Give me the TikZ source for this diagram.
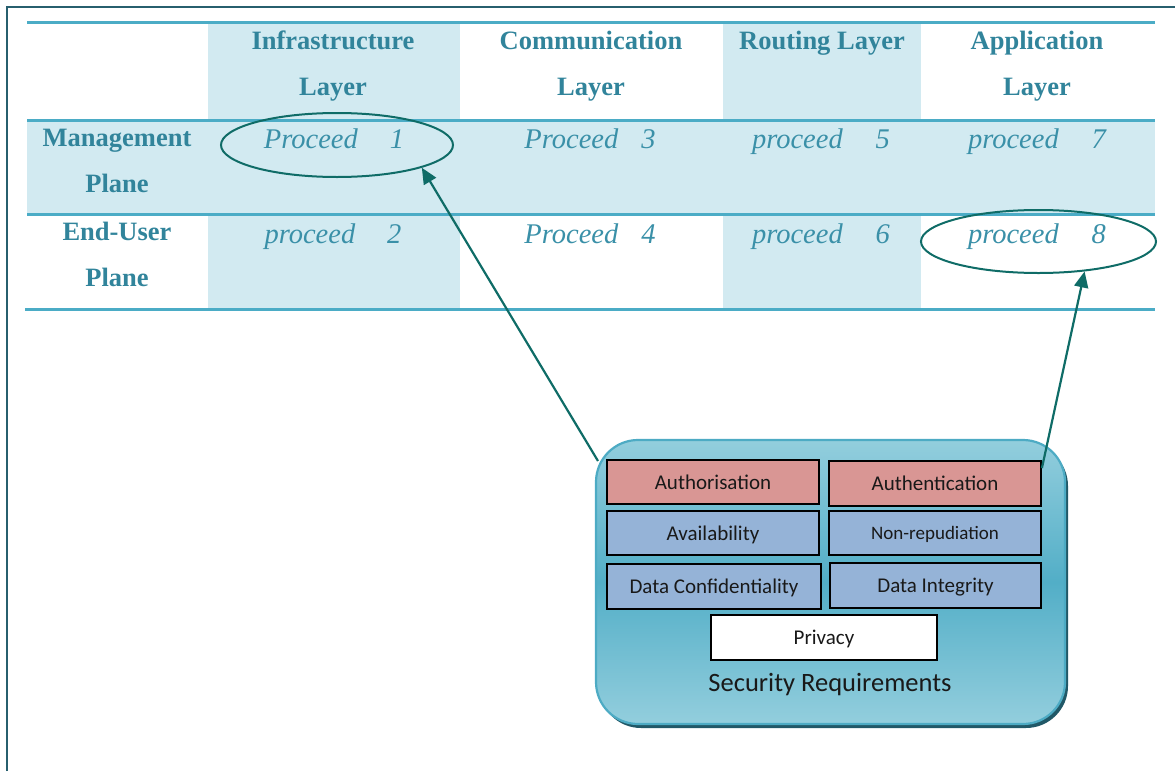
\documentclass[tikz,border=0pt]{standalone}
\usepackage{fontspec}
\setmainfont{Liberation Serif}
\newfontfamily\boxfont{Carlito}
\usetikzlibrary{shapes.geometric,arrows.meta}

\definecolor{framecol}{HTML}{275F6E}
\definecolor{rulecol}{HTML}{4BACC6}
\definecolor{shadecol}{HTML}{D2EAF1}
\definecolor{headcol}{HTML}{31849B}
\definecolor{cellcol}{HTML}{3A90A8}
\definecolor{linkcol}{HTML}{0F6C67}
\definecolor{redbox}{HTML}{D99694}
\definecolor{bluebox}{HTML}{95B3D7}
\definecolor{boxtop}{HTML}{93CEDD}
\definecolor{boxmid}{HTML}{52AEC7}
\definecolor{boxedge}{HTML}{4DABC4}
\definecolor{boxshadow}{HTML}{215867}

\begin{document}
\begin{tikzpicture}[x=1pt,y=-1pt,
  rulestyle/.style={draw=rulecol,line width=3pt},
  headtext/.style={text=headcol,align=center,inner sep=0pt,anchor=base,
    font=\fontsize{26.5}{46}\selectfont\bfseries},
  celltext/.style={text=cellcol,inner sep=0pt,anchor=base,
    font=\fontsize{28.5}{34}\selectfont\itshape},
  ring/.style={draw=linkcol,line width=2pt,ellipse,minimum width=232pt,minimum height=64pt,inner sep=0pt},
  conn/.style={draw=linkcol,line width=2.2pt,-{Triangle[length=16pt,width=14pt]}},
  reqbox/.style={draw=black,line width=1.8pt,minimum width=212pt,minimum height=44pt,inner sep=0pt,
    text depth=0pt,text=black!90,font=\boxfont\fontsize{21}{25}\selectfont},
]
\useasboundingbox (0,0) rectangle (1175,771);

% outer frame (top and left edges)
\draw[framecol,line width=2.2pt] (7,771) -- (7,7) -- (1175,7);

% table shading
\fill[shadecol] (208,22) rectangle (460,120);
\fill[shadecol] (723,22) rectangle (921,120);
\fill[shadecol] (27,120) rectangle (1155,214);
\fill[shadecol] (208,214) rectangle (460,309);
\fill[shadecol] (723,214) rectangle (921,309);

% table rules
\draw[rulestyle] (27,22) -- (1155,22);
\draw[rulestyle] (27,120) -- (1155,120);
\draw[rulestyle] (27,214) -- (1155,214);
\draw[rulestyle] (25,309) -- (1155,309);

% column headings (base = last line's baseline)
\node[headtext] (h1) at (333,95) {Infrastructure\\Layer};
\node[headtext] (h2) at (591,95) {Communication\\Layer};
\node[headtext] (h3) at (822,49) {Routing Layer};
\node[headtext] (h4) at (1037,95) {Application\\Layer};

% row headings
\node[headtext] (r1) at (117,192) {Management\\Plane};
\node[headtext] (r2) at (117,286) {End-User\\Plane};

% cells
\node[celltext] (c1) at (334,148) {Proceed\hspace{32pt}1};
\node[celltext] (c2) at (333,243) {proceed\hspace{32pt}2};
\node[celltext] (c3) at (590,148) {Proceed\hspace{23pt}3};
\node[celltext] (c4) at (590,243) {Proceed\hspace{23pt}4};
\node[celltext] (c5) at (821,148) {proceed\hspace{33pt}5};
\node[celltext] (c6) at (821,243) {proceed\hspace{33pt}6};
\node[celltext] (c7) at (1037,148) {proceed\hspace{33pt}7};
\node[celltext] (c8) at (1037,243) {proceed\hspace{33pt}8};

% highlight rings
\node[ring] (e1) at (337,145) {};
\node[ring,minimum width=235pt,minimum height=63pt] (e8) at (1038.5,241.5) {};

% security requirements panel
\fill[boxshadow,rounded corners=42pt] (599,444) rectangle (1068,728);
\node[draw=boxedge,line width=2.2pt,rounded corners=42pt,
      top color=boxtop,bottom color=boxtop,middle color=boxmid,
      minimum width=469pt,minimum height=284pt,inner sep=0pt] (sec) at (830.5,582) {};

\node[reqbox,fill=redbox] (auth) at (713,482) {Authorisation};
\node[reqbox,fill=redbox,minimum height=45pt] (authn) at (935,483.5) {Authentication};
\node[reqbox,fill=bluebox] (avail) at (713,533) {Availability};
\node[reqbox,fill=bluebox,font=\boxfont\fontsize{19}{23}\selectfont] (nonrep) at (935,533) {Non-repudiation};
\node[reqbox,fill=bluebox,minimum width=214pt,minimum height=45pt] (conf) at (714,586.5) {Data Confidentiality};
\node[reqbox,fill=bluebox,minimum width=211pt,minimum height=45pt] (integ) at (935.5,585.5) {Data Integrity};
\node[reqbox,fill=white,minimum width=226pt,minimum height=45pt] (priv) at (824,637.5) {Privacy};
\node[inner sep=0pt,text=black!90,font=\boxfont\fontsize{26.5}{30}\selectfont] (title) at (830,685) {Security Requirements};

% links from the panel to the highlighted cells
\coordinate (s1) at (598,461);
\draw[conn] (s1) -- (e1.-15);
\draw[conn] ([yshift=-8pt]authn.north east) -- (e8.-33);
\end{tikzpicture}
\end{document}
